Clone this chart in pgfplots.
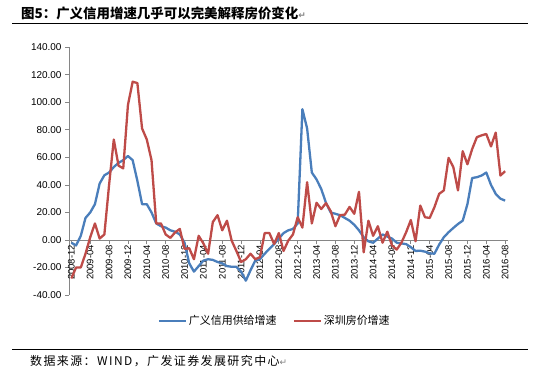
\documentclass[border=0pt]{standalone}
\usepackage{pgfplots}
\pgfplotsset{compat=1.18}
\usepackage{pgfplotstable}
\usepackage{fontspec}
\setmainfont{Liberation Sans}
\newfontfamily\cjk{Noto Sans CJK SC}
\newfontfamily\sym{DejaVu Sans}
\definecolor{xlblue}{HTML}{4A7EBB}
\definecolor{xlred}{HTML}{BE4B48}
\definecolor{axgray}{HTML}{868686}

\pgfplotstableread{
i b r
0 -2 -28
1 -4 -20
2 3 -20
3 16 -10
4 20 2
5 26 12
6 41 1
7 47 4
8 49 40
9 53 73
10 56 54
11 58 52
12 61 98
13 58 115
14 43 114
15 26 81
16 26 73
17 20 58
18 12 12
19 10 12
20 9 4
21 7 1.5
22 6 5.5
23 4 8
24 -2 -6.5
25 -17 -6
26 -23 -14
27 -19 3
28 -15 -2.5
29 -14 -10
30 -14.5 13
31 -16 18
32 -17 7
33 -19 14
34 -19.5 -0.5
35 -19.5 -8
36 -23 -16
37 -29.6 -14
38 -22 -10
39 -15 -14
40 -14 -12.5
41 -10 5
42 -6.5 5
43 -3 -3
44 1 5
45 5 -8
46 7 -0.5
47 8 4
48 12 16.5
49 95 9
50 81 42
51 49 12
52 44 27
53 37 22.5
54 27 26.7
55 20 21
56 19 10
57 18 18
58 16 18.4
59 14 24
60 11 19
61 7 35
62 2 -9
63 -1 14
64 -2 3
65 1 10
66 4 -2
67 2.5 6
68 1 -4
69 -2 -7
70 -2.5 -2
71 -3 5.6
72 -5.3 14.5
73 -8 -1
74 -7.8 25
75 -8.5 16.5
76 -9.7 16
77 -10 23.8
78 -3.4 33.5
79 2 36
80 5.6 59.6
81 8.7 53
82 11.6 36
83 14 64.5
84 26 55
85 45 66
86 45.6 74.7
87 46.8 76
88 49 77
89 40 68
90 33.5 78
91 30 46.8
92 28.6 50
}\data

\begin{document}
\begin{tikzpicture}[x=1bp,y=1bp]
\path (0,0) rectangle (540,370);
\node[anchor=west, inner sep=0pt, font=\cjk\bfseries\fontsize{13.5}{16}\selectfont] at (21,357) {图5：广义信用增速几乎可以完美解释房价变化{\sym\color{gray}\fontsize{9}{10}\selectfont ↵}};
\draw[line width=1.5bp] (12,346.5) -- (528,346.5);
\draw[line width=0.8bp] (12,21) -- (528,21);
\node[anchor=west, inner sep=0pt, font=\cjk\fontsize{12}{14}\selectfont] at (30,9) {\addfontfeature{LetterSpace=12}数据来源：WIND，广发证券发展研究中心{\sym\color{gray}\fontsize{9}{10}\selectfont ↵}};
\begin{axis}[
  at={(69bp,75bp)}, anchor=south west,
  scale only axis, width=438.5bp, height=247.7bp,
  xmin=-0.5, xmax=92.5, ymin=-40, ymax=140,
  axis x line*=middle, axis y line*=left,
  hide obscured x ticks=false, hide obscured y ticks=false,
  axis line style={axgray, line width=0.75bp},
  tick align=outside, major tick length=4bp,
  tick style={axgray, line width=0.75bp},
  xtick={0,4,...,92},
  xticklabels={2008-12,2009-04,2009-08,2009-12,2010-04,2010-08,2010-12,2011-04,2011-08,2011-12,2012-04,2012-08,2012-12,2013-04,2013-08,2013-12,2014-04,2014-08,2014-12,2015-04,2015-08,2015-12,2016-04,2016-08},
  xticklabel style={rotate=90, anchor=east, inner sep=1bp, font=\fontsize{9.5}{10}\selectfont},
  ytick={-40,-20,...,140},
  yticklabels={-40.00,-20.00,0.00,20.00,40.00,60.00,80.00,100.00,120.00,140.00},
  yticklabel style={font=\fontsize{10}{11}\selectfont},
  legend style={at={(0.469,-0.104)}, anchor=center, legend columns=2, draw=none, fill=none,
    font=\cjk\fontsize{11}{13}\selectfont,
    /tikz/every even column/.append style={column sep=14bp}},
  legend image code/.code={\draw[#1] (0bp,0bp) -- (27bp,0bp);},
  every axis plot/.append style={line width=2.3bp, line join=round, mark=none},
]
\addplot[xlblue] table[x=i,y=b]{\data};
\addlegendentry{广义信用供给增速}
\addplot[xlred] table[x=i,y=r]{\data};
\addlegendentry{深圳房价增速}
\end{axis}
\end{tikzpicture}
\end{document}
